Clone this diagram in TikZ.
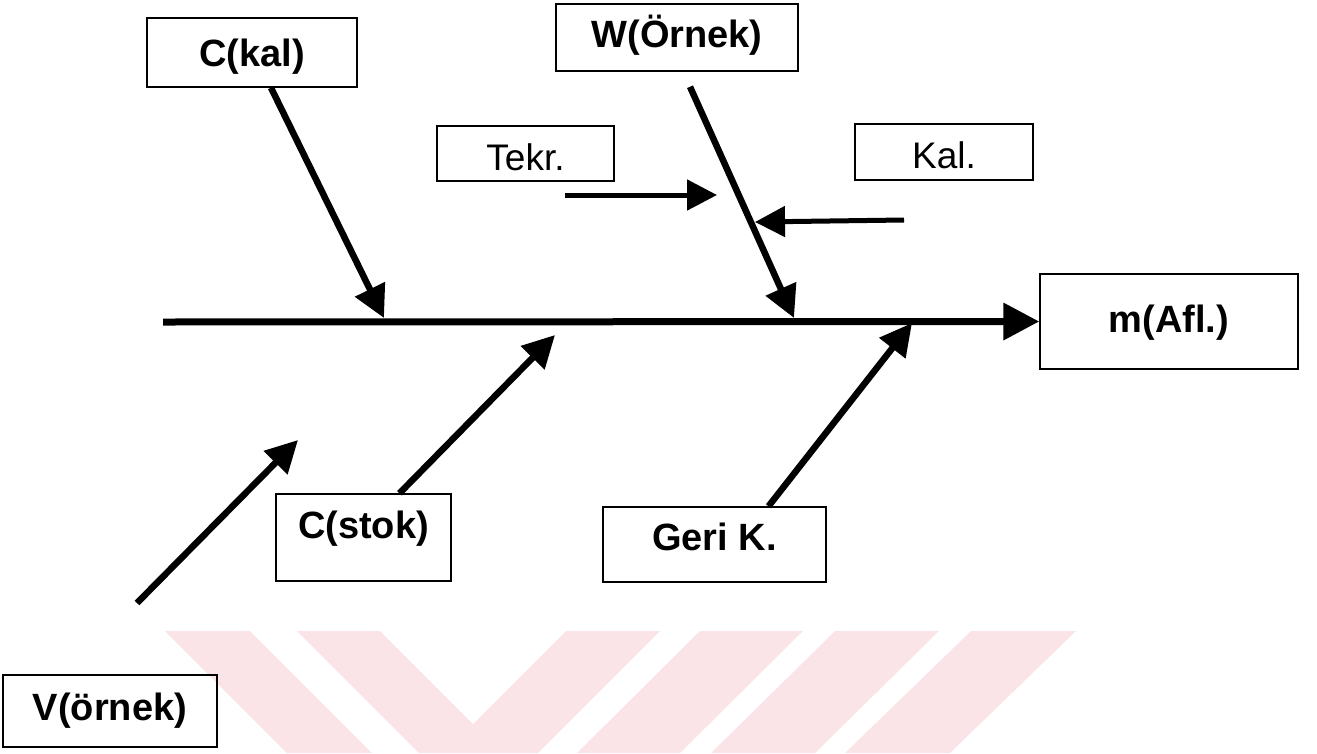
\documentclass[tikz,border=0pt]{standalone}
\usepackage{fontspec}
\setmainfont{Liberation Sans}
\usetikzlibrary{arrows.meta}
\definecolor{wm}{RGB}{251,228,232}
\tikzset{
  box/.style={draw=black, line width=1.5pt, inner sep=0pt, text height=27pt, text depth=0pt,
    font=\fontsize{38}{42}\selectfont\bfseries},
  plainbox/.style={box, font=\fontsize{37}{42}\selectfont},
  bone/.style={line width=6.5pt, -{Triangle[length=32pt,width=32pt]}},
  subarrow/.style={line width=5pt, -{Triangle[length=30pt,width=30pt]}},
  spine/.style={line width=7pt, -{Triangle[length=36pt,width=36pt]}}
}
\begin{document}
\begin{tikzpicture}[x=1pt,y=-1pt]
\useasboundingbox (0,0) rectangle (1317,753);
% watermark
\fill[wm] (165,631) -- (250,631) -- (372,753) -- (287,753) -- cycle;
\fill[wm] (297,631) -- (380,631) -- (473,724) -- (566,631) -- (660,631) -- (538,753) -- (419,753) -- cycle;
\fill[wm] (700,631) -- (803,631) -- (680,753) -- (577,753) -- cycle;
\fill[wm] (835,631) -- (939,631) -- (815,753) -- (711,753) -- cycle;
\fill[wm] (971,631) -- (1076,631) -- (950,753) -- (845,753) -- cycle;

% boxes
\node[box, minimum width=210pt, minimum height=69pt] (ckal) at (252,52.5) {C(kal)};
\node[box, minimum width=242pt, minimum height=67pt, text depth=8pt] (wornek) at (677,37.5) {W(Örnek)};
\node[plainbox, minimum width=177pt, minimum height=55pt, text height=33.5pt] (tekr) at (525.5,153.5) {Tekr.};
\node[plainbox, minimum width=178pt, minimum height=56pt, text height=33.5pt] (kal) at (944,152) {Kal.};
\node[box, minimum width=258pt, minimum height=95pt, text depth=6pt] (mafl) at (1169,321.5) {m(Afl.)};
\node[box, minimum width=175pt, minimum height=87pt, text depth=26pt] (cstok) at (363.5,537.5) {C(stok)};
\node[box, minimum width=223pt, minimum height=75pt, text depth=15pt] (gerik) at (714.5,544.5) {Geri K.};
\node[box, minimum width=214pt, minimum height=72pt, text depth=9pt] (vornek) at (110,711) {V(örnek)};

% junction points and free ends
\coordinate (spinestart) at (163,322);
\coordinate (j1) at (384,318);
\coordinate (j2) at (794,318);
\coordinate (j3) at (555,335);
\coordinate (j4) at (912,323);
\coordinate (t1) at (565,195);
\coordinate (t2) at (717,195);
\coordinate (k1) at (904,220);
\coordinate (k2) at (755,222);
\coordinate (v1) at (137,603);
\coordinate (v2) at (298,440);

% spine
\draw[spine] (spinestart) -- (mafl.west);
% bones
\draw[bone] ([xshift=19pt]ckal.south) -- (j1);
\draw[bone] ([xshift=13pt,yshift=-15pt]wornek.south) -- (j2);
\draw[bone] ([xshift=36pt]cstok.north) -- (j3);
\draw[bone] ([xshift=54pt]gerik.north) -- (j4);
\draw[bone] (v1) -- (v2);
% sub arrows
\draw[subarrow] (t1) -- (t2);
\draw[subarrow] (k1) -- (k2);
\end{tikzpicture}
\end{document}
